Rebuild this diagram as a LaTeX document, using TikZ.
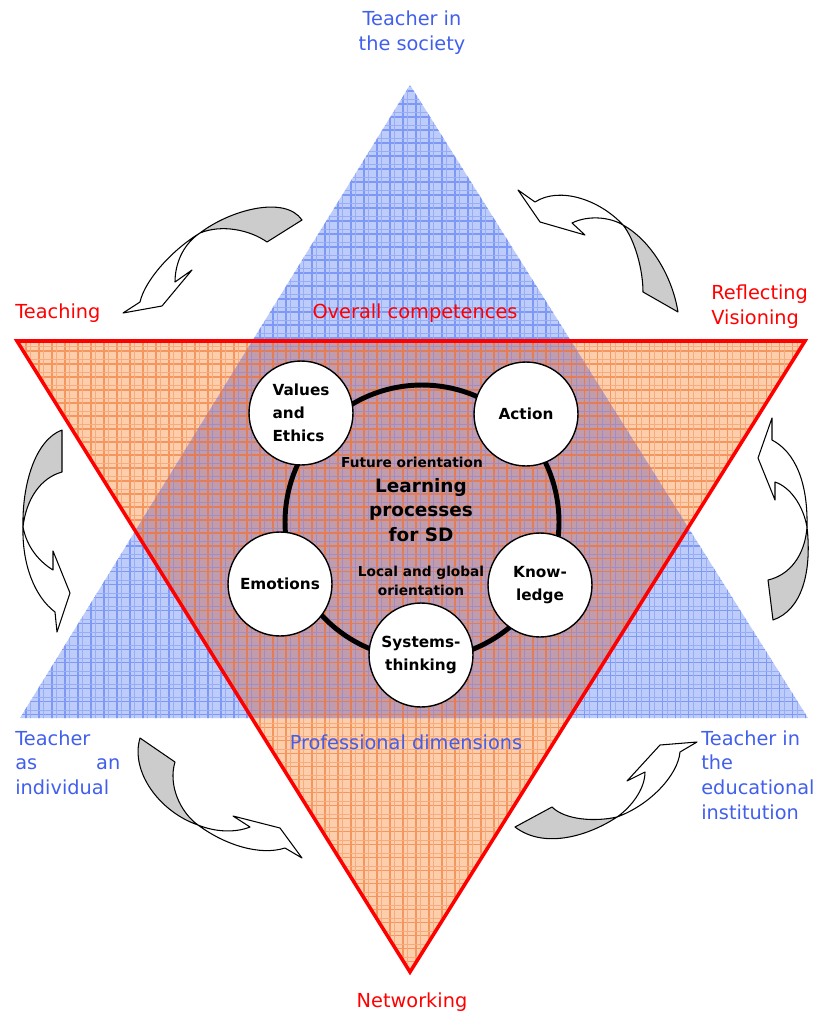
\documentclass[tikz,border=0pt]{standalone}
\usepackage{fontspec}
\setmainfont{DejaVu Sans}
\usepackage{xcolor}
\usetikzlibrary{calc}

\definecolor{labelblue}{RGB}{65,95,235}
\definecolor{bluefill}{RGB}{190,204,250}
\definecolor{bluegrid}{RGB}{125,152,245}
\definecolor{orangefill}{RGB}{252,206,172}
\definecolor{orangegrid}{RGB}{245,150,95}
\definecolor{overlapfill}{RGB}{192,156,172}
\definecolor{overlapgrid}{RGB}{228,125,85}
\definecolor{overlapblue}{RGB}{165,140,190}
\definecolor{arrowgray}{RGB}{204,204,204}

\begin{document}
\begin{tikzpicture}
  [
    x=0.02cm, y=-0.02cm,
    bluelabel/.style={text=labelblue,inner sep=0pt,font=\fontsize{11}{14.2}\selectfont},
    redlabel/.style={text=red,inner sep=0pt,font=\fontsize{11}{14.2}\selectfont},
    topic/.style={circle,draw=black,line width=0.8pt,fill=white,minimum size=2.08cm,inner sep=0pt,align=center,font=\fontsize{8.7}{13}\selectfont\bfseries},
    backside/.style={draw=black,line width=0.6pt,fill=arrowgray,line join=round},
    frontside/.style={draw=black,line width=0.6pt,fill=white,line join=round},
    tartan/.style={line width=0.7pt,step=0.26cm}
  ]
  \useasboundingbox (0,0) rectangle (817,1014);
  \coordinate (society corner) at (410,85);
  \coordinate (individual corner) at (20,718);
  \coordinate (institution corner) at (808,718);
  \coordinate (teaching corner) at (17,341);
  \coordinate (reflecting corner) at (805,341);
  \coordinate (networking corner) at (410,972);

  % competences triangle
  \begin{scope}
    \clip (teaching corner) -- (reflecting corner) -- (networking corner) -- cycle;
    \fill[orangefill] (0,0) rectangle (817,1014);
    \draw[orangegrid,tartan] (0,1014) grid (817,0);
    \draw[orangegrid!60!orangefill,tartan,xshift=0.09cm,yshift=0.09cm] (0,1014) grid (817,0);
  \end{scope}
  % dimensions triangle
  \begin{scope}
    \clip (society corner) -- (individual corner) -- (institution corner) -- cycle;
    \fill[bluefill] (0,0) rectangle (817,1014);
    \draw[bluegrid,tartan] (0,1014) grid (817,0);
    \draw[bluegrid!60!bluefill,tartan,xshift=0.09cm,yshift=0.09cm] (0,1014) grid (817,0);
  \end{scope}
  % overlap
  \begin{scope}
    \clip (society corner) -- (individual corner) -- (institution corner) -- cycle;
    \clip (teaching corner) -- (reflecting corner) -- (networking corner) -- cycle;
    \fill[overlapfill] (0,0) rectangle (817,1014);
    \draw[overlapgrid,tartan] (0,1014) grid (817,0);
    \draw[overlapblue,tartan,xshift=0.09cm,yshift=0.09cm] (0,1014) grid (817,0);
  \end{scope}
  \draw[red,line width=2pt] (teaching corner) -- (reflecting corner) -- (networking corner) -- cycle;

  % learning ring
  \draw[line width=2.8pt] (422,522) circle[radius=2.74cm];
  \node[font=\fontsize{7.8}{11}\selectfont\bfseries] (future) at (412,462) {Future orientation};
  \node[align=center,font=\fontsize{10.5}{14}\selectfont\bfseries] (learning) at (421,510) {Learning\\processes\\for SD};
  \node[align=center,font=\fontsize{7.8}{11}\selectfont\bfseries] (local) at (421,581) {Local and global\\orientation};

  \node[topic,align=left] (values) at (301,413) {Values\\and\\Ethics};
  \node[topic] (action) at (526,414) {Action};
  \node[topic] (emotions) at (280,584) {Emotions};
  \node[topic] (knowledge) at (540,585) {Know-\\ledge};
  \node[topic] (systems) at (421,655) {Systems-\\thinking};

  % cycle arrows
  \draw[backside] (200,233) .. controls (230,210) and (285,195) .. (302,220) -- (267,242)
    .. controls (250,230) and (222,224) .. (200,233) -- cycle;
  \draw[frontside] (200,233) .. controls (172,250) and (145,280) .. (140,302) -- (123,313) -- (162,306)
    -- (192,270) -- (175,282) .. controls (175,265) and (182,245) .. (200,233) -- cycle;

  \draw[backside] (623,225) .. controls (650,240) and (672,275) .. (678,312) -- (643,292)
    .. controls (643,270) and (635,240) .. (623,225) -- cycle;
  \draw[frontside] (518,190) -- (540,222) -- (585,235) -- (572,223) .. controls (588,215) and (610,217) .. (623,225)
    .. controls (600,200) and (560,186) .. (535,202) -- cycle;

  \draw[backside] (62,430) .. controls (35,440) and (22,485) .. (23,527)
    .. controls (26,500) and (40,478) .. (62,472) -- cycle;
  \draw[frontside] (23,527) .. controls (22,565) and (35,597) .. (55,612) -- (57,632) -- (70,593) -- (53,551)
    -- (53,570) .. controls (40,562) and (27,548) .. (23,527) -- cycle;

  \draw[backside] (807,527) .. controls (812,572) and (802,610) .. (773,620) -- (768,580)
    .. controls (790,575) and (805,555) .. (807,527) -- cycle;
  \draw[frontside] (772,418) -- (758,458) -- (775,500) -- (775,482) .. controls (790,487) and (803,505) .. (807,527)
    .. controls (808,482) and (795,452) .. (772,440) -- cycle;

  \draw[backside] (140,738) .. controls (130,772) and (160,812) .. (198,825)
    .. controls (180,812) and (168,785) .. (175,762) -- cycle;
  \draw[frontside] (198,825) .. controls (225,845) and (260,856) .. (285,848) -- (302,858) -- (280,828)
    -- (233,816) -- (250,827) .. controls (235,833) and (215,832) .. (198,825) -- cycle;

  \draw[backside] (515,827) -- (552,807) .. controls (565,820) and (595,822) .. (617,817)
    .. controls (590,835) and (545,850) .. (515,827) -- cycle;
  \draw[frontside] (617,817) .. controls (630,808) and (645,790) .. (645,772) -- (627,781) -- (660,745)
    -- (697,742) -- (680,752) .. controls (678,775) and (650,805) .. (617,817) -- cycle;

  % labels
  \node[bluelabel,align=center] (society) at (412,33) {Teacher in\\the society};
  \node[redlabel,anchor=west] (teaching) at (15,313) {Teaching};
  \node[redlabel] (overall) at (415,313) {Overall competences};
  \node[redlabel,anchor=west,align=left] (reflecting) at (711,307) {Reflecting\\Visioning};
  \node[bluelabel,anchor=north west,align=left,text width=2.1cm] (individual) at (15,730) {Teacher\\as\hfill an\\individual};
  \node[bluelabel] (professional) at (406,742) {Professional dimensions};
  \node[bluelabel,anchor=north west,align=left] (institution) at (701,730) {Teacher in\\the\\educational\\institution};
  \node[redlabel] (networking) at (412,1002) {Networking};
\end{tikzpicture}
\end{document}
